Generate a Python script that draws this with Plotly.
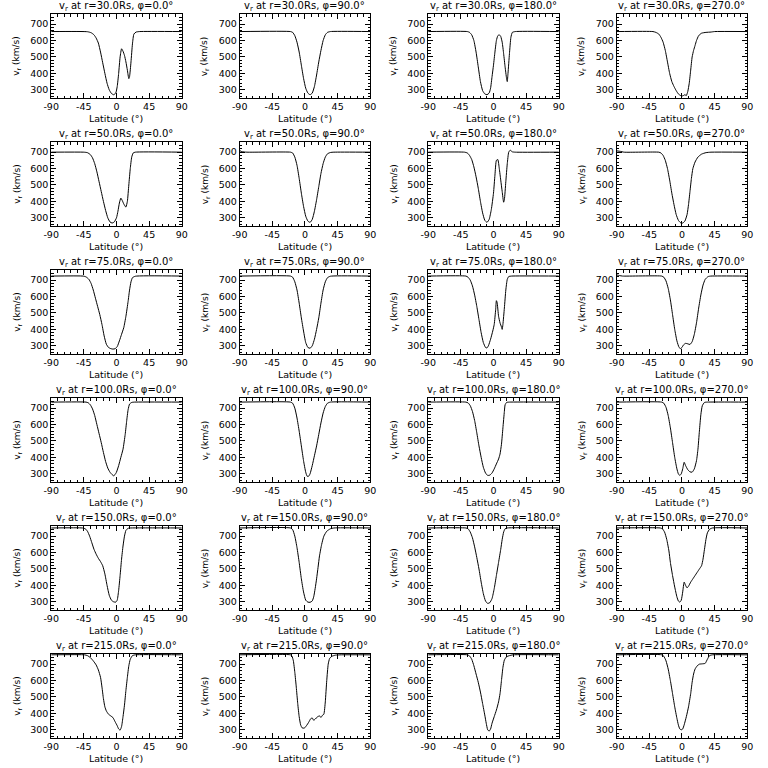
import plotly.graph_objects as go

# ---------------- data ----------------
radii = [30.0, 50.0, 75.0, 100.0, 150.0, 215.0]
phis = [0.0, 90.0, 180.0, 270.0]
x_ticks = [-90, -45, 0, 45, 90]
y_ticks = [300, 400, 500, 600, 700]

# r = 30 Rs
r30_p0_lat = [-90, -40, -35, -31, -28, -25, -22, -19, -16, -13, -10, -7, -4, -1, 1, 3, 5, 7, 9, 11, 13, 15, 17, 18, 20, 22, 24, 27, 32, 90]
r30_p0_v = [655, 654, 648, 635, 615, 585, 530, 465, 400, 340, 300, 278, 270, 280, 320, 400, 500, 550, 535, 510, 470, 420, 368, 380, 470, 580, 640, 652, 655, 655]
r30_p90_lat = [-90, -20, -17, -14, -11, -8, -5, -2, 1, 4, 7, 10, 13, 16, 19, 22, 25, 28, 31, 35, 90]
r30_p90_v = [655, 655, 650, 630, 590, 530, 450, 370, 310, 280, 270, 280, 320, 390, 470, 540, 600, 635, 650, 655, 655]
r30_p180_lat = [-90, -36, -33, -30, -27, -24, -21, -18, -15, -12, -9, -6, -4, -2, 0, 2, 4, 6, 8, 10, 12, 14, 16, 18, 19, 20, 22, 24, 26, 30, 90]
r30_p180_v = [655, 655, 650, 635, 600, 530, 440, 350, 295, 275, 270, 280, 310, 380, 450, 530, 600, 630, 635, 625, 590, 520, 440, 370, 350, 400, 520, 620, 650, 655, 655]
r30_p270_lat = [-90, -40, -36, -32, -29, -26, -23, -20, -17, -14, -11, -8, -5, -2, 0, 2, 4, 6, 8, 10, 12, 14, 16, 18, 20, 23, 27, 33, 40, 45, 90]
r30_p270_v = [655, 655, 650, 640, 620, 590, 540, 470, 400, 350, 320, 295, 275, 265, 262, 265, 270, 265, 290, 340, 420, 500, 540, 570, 600, 630, 645, 650, 652, 655, 655]

# r = 50 Rs
r50_p0_lat = [-90, -45, -40, -36, -33, -30, -27, -24, -21, -18, -15, -12, -9, -6, -3, 0, 2, 4, 6, 8, 10, 12, 13, 15, 17, 19, 21, 23, 26, 90]
r50_p0_v = [700, 700, 697, 685, 665, 630, 580, 520, 460, 400, 345, 300, 275, 268, 275, 300, 340, 390, 420, 405, 385, 370, 365, 400, 500, 600, 670, 695, 700, 700]
r50_p90_lat = [-90, -87, -80, -20, -17, -14, -11, -8, -5, -2, 1, 4, 7, 10, 13, 16, 19, 22, 25, 28, 31, 35, 40, 90]
r50_p90_v = [710, 703, 700, 700, 695, 670, 620, 540, 450, 370, 310, 280, 272, 290, 340, 410, 490, 570, 630, 670, 690, 698, 700, 700]
r50_p180_lat = [-90, -40, -36, -33, -30, -27, -24, -21, -18, -15, -12, -9, -6, -3, 0, 2, 4, 6, 8, 10, 12, 14, 15, 17, 19, 21, 23, 26, 30, 90]
r50_p180_v = [700, 700, 695, 680, 655, 610, 550, 480, 400, 330, 285, 272, 290, 350, 450, 560, 650, 655, 600, 530, 460, 395, 410, 520, 630, 700, 712, 702, 700, 700]
r50_p270_lat = [-90, -85, -80, -32, -29, -26, -23, -20, -17, -14, -11, -8, -5, -2, 1, 4, 7, 9, 11, 13, 15, 18, 22, 27, 33, 40, 90]
r50_p270_v = [708, 705, 700, 700, 695, 680, 650, 600, 530, 450, 380, 320, 285, 270, 268, 280, 320, 380, 460, 540, 600, 640, 670, 688, 697, 700, 700]

# r = 75 Rs
r75_p0_lat = [-90, -46, -42, -38, -35, -32, -29, -26, -23, -20, -17, -14, -11, -8, -5, -2, 1, 4, 7, 10, 13, 16, 18, 20, 22, 26, 90]
r75_p0_v = [725, 725, 720, 705, 680, 640, 590, 540, 490, 430, 360, 310, 290, 283, 280, 282, 295, 330, 370, 410, 480, 570, 640, 690, 715, 724, 725]
r75_p90_lat = [-90, -20, -17, -14, -11, -8, -5, -2, 1, 4, 7, 10, 13, 16, 19, 22, 25, 28, 31, 35, 90]
r75_p90_v = [725, 725, 718, 690, 640, 560, 470, 390, 320, 290, 285, 300, 340, 400, 470, 560, 640, 690, 715, 724, 725]
r75_p180_lat = [-90, -38, -35, -32, -29, -26, -23, -20, -17, -14, -11, -9, -7, -4, -1, 1, 3, 4, 5, 7, 9, 11, 12, 13, 15, 17, 19, 21, 25, 90]
r75_p180_v = [725, 725, 718, 700, 665, 610, 540, 460, 380, 320, 290, 287, 300, 340, 390, 430, 520, 575, 565, 480, 440, 415, 400, 430, 530, 640, 705, 722, 725, 725]
r75_p270_lat = [-90, -86, -82, -28, -25, -22, -19, -16, -13, -10, -7, -4, -2, 0, 2, 5, 8, 11, 14, 17, 20, 23, 26, 29, 32, 36, 40, 90]
r75_p270_v = [732, 728, 725, 725, 718, 695, 650, 580, 490, 400, 330, 290, 283, 290, 305, 315, 312, 308, 325, 370, 440, 530, 610, 670, 705, 722, 725, 725]

# r = 100 Rs
r100_p0_lat = [-90, -42, -39, -36, -33, -30, -27, -24, -21, -18, -15, -12, -9, -6, -4, -2, 0, 3, 6, 9, 12, 14, 16, 18, 21, 25, 90]
r100_p0_v = [737, 737, 733, 720, 695, 655, 600, 545, 490, 430, 375, 335, 310, 295, 288, 295, 310, 350, 400, 450, 540, 620, 690, 725, 735, 737, 737]
r100_p90_lat = [-90, -20, -17, -14, -11, -8, -5, -2, 1, 3, 5, 7, 10, 13, 16, 19, 22, 25, 28, 31, 35, 90]
r100_p90_v = [737, 737, 730, 700, 640, 560, 470, 380, 310, 285, 285, 300, 350, 410, 470, 540, 610, 670, 710, 730, 737, 737]
r100_p180_lat = [-90, -38, -35, -32, -29, -26, -23, -20, -17, -14, -11, -8, -5, -2, 1, 4, 7, 9, 11, 13, 15, 16, 18, 22, 90]
r100_p180_v = [737, 737, 732, 715, 680, 625, 550, 470, 400, 340, 305, 290, 292, 305, 330, 360, 390, 420, 480, 580, 680, 720, 735, 737, 737]
r100_p270_lat = [-90, -28, -25, -22, -19, -16, -13, -10, -7, -5, -3, -1, 1, 3, 5, 8, 11, 14, 17, 20, 22, 24, 26, 28, 31, 35, 90]
r100_p270_v = [737, 737, 730, 705, 655, 580, 490, 400, 330, 300, 290, 300, 330, 370, 350, 325, 312, 310, 330, 380, 450, 560, 660, 715, 735, 737, 737]

# r = 150 Rs
r150_p0_lat = [-90, -47, -43, -40, -37, -34, -31, -28, -25, -22, -19, -16, -13, -10, -7, -4, -1, 1, 3, 5, 7, 9, 11, 13, 16, 20, 90]
r150_p0_v = [750, 750, 745, 730, 700, 660, 620, 590, 565, 545, 520, 470, 400, 340, 310, 300, 298, 310, 370, 460, 560, 640, 700, 735, 748, 750, 750]
r150_p90_lat = [-90, -20, -17, -14, -11, -8, -5, -2, 1, 4, 7, 10, 12, 14, 16, 18, 20, 23, 26, 30, 35, 40, 90]
r150_p90_v = [750, 750, 740, 700, 630, 540, 440, 360, 310, 298, 297, 305, 330, 380, 440, 510, 580, 650, 700, 730, 745, 750, 750]
r150_p180_lat = [-90, -38, -35, -32, -29, -26, -23, -20, -17, -14, -11, -8, -5, -2, 1, 4, 7, 10, 12, 14, 16, 19, 90]
r150_p180_v = [750, 750, 745, 725, 690, 635, 570, 500, 420, 350, 305, 290, 295, 320, 380, 460, 540, 620, 680, 725, 745, 750, 750]
r150_p270_lat = [-90, -30, -27, -24, -21, -18, -16, -13, -10, -7, -5, -3, -1, 1, 3, 5, 7, 9, 12, 15, 18, 21, 24, 27, 29, 31, 33, 35, 38, 42, 90]
r150_p270_v = [750, 750, 745, 725, 680, 610, 540, 460, 390, 330, 305, 298, 310, 360, 420, 400, 385, 395, 420, 440, 460, 480, 500, 520, 560, 620, 680, 720, 742, 750, 750]

# r = 215 Rs
r215_p0_lat = [-90, -44, -40, -36, -32, -28, -25, -22, -20, -18, -16, -14, -11, -8, -5, -2, 1, 3, 5, 7, 9, 11, 13, 15, 17, 19, 22, 26, 90]
r215_p0_v = [757, 757, 752, 740, 720, 695, 665, 620, 560, 490, 440, 415, 395, 385, 375, 350, 325, 305, 298, 320, 380, 450, 540, 620, 690, 730, 752, 757, 757]
r215_p90_lat = [-90, -20, -18, -16, -14, -12, -10, -8, -6, -4, -1, 2, 5, 8, 10, 12, 14, 17, 20, 22, 24, 26, 28, 30, 32, 34, 37, 42, 50, 90]
r215_p90_v = [757, 757, 750, 720, 650, 560, 460, 380, 330, 312, 310, 325, 345, 368, 372, 358, 365, 378, 385, 375, 388, 395, 470, 600, 700, 735, 748, 755, 757, 757]
r215_p180_lat = [-90, -36, -33, -30, -27, -24, -21, -18, -15, -12, -10, -8, -6, -4, -2, 1, 4, 7, 9, 11, 13, 15, 18, 22, 27, 90]
r215_p180_v = [757, 757, 750, 730, 690, 640, 590, 530, 460, 390, 340, 300, 292, 305, 340, 380, 420, 470, 520, 600, 680, 725, 745, 752, 757, 757]
r215_p270_lat = [-90, -28, -25, -22, -19, -16, -13, -10, -7, -5, -3, -1, 1, 3, 6, 9, 12, 14, 16, 18, 21, 24, 28, 32, 35, 38, 42, 90]
r215_p270_v = [757, 757, 748, 720, 670, 600, 520, 440, 370, 330, 305, 300, 305, 330, 380, 440, 520, 590, 640, 670, 690, 700, 702, 705, 730, 752, 757, 757]

panels = [
    [(r30_p0_lat, r30_p0_v), (r30_p90_lat, r30_p90_v), (r30_p180_lat, r30_p180_v), (r30_p270_lat, r30_p270_v)],
    [(r50_p0_lat, r50_p0_v), (r50_p90_lat, r50_p90_v), (r50_p180_lat, r50_p180_v), (r50_p270_lat, r50_p270_v)],
    [(r75_p0_lat, r75_p0_v), (r75_p90_lat, r75_p90_v), (r75_p180_lat, r75_p180_v), (r75_p270_lat, r75_p270_v)],
    [(r100_p0_lat, r100_p0_v), (r100_p90_lat, r100_p90_v), (r100_p180_lat, r100_p180_v), (r100_p270_lat, r100_p270_v)],
    [(r150_p0_lat, r150_p0_v), (r150_p90_lat, r150_p90_v), (r150_p180_lat, r150_p180_v), (r150_p270_lat, r150_p270_v)],
    [(r215_p0_lat, r215_p0_v), (r215_p90_lat, r215_p90_v), (r215_p180_lat, r215_p180_v), (r215_p270_lat, r215_p270_v)],
]

# ---------------- layout ----------------
W = H = 768
FONT = "DejaVu Sans"
fig = go.Figure()
layout = dict(
    width=W, height=H, margin=dict(l=0, r=0, t=0, b=0),
    paper_bgcolor="white", plot_bgcolor="white", showlegend=False,
    font=dict(family=FONT, size=9.5, color="black"),
)
annotations = []

n = 0
for r, row in enumerate(panels):
    for c, (lat, v) in enumerate(row):
        n += 1
        sfx = "" if n == 1 else str(n)
        x0, x1 = 44 + 192 * c, 177 + 192 * c
        y0, y1 = 14 + 128 * r, 98 + 128 * r
        fig.add_trace(go.Scatter(
            x=lat, y=v, mode="lines",
            line=dict(color="black", width=1, shape="spline", smoothing=0.5),
            xaxis="x" + sfx, yaxis="y" + sfx, hoverinfo="skip"))
        common = dict(
            showline=True, linecolor="black", linewidth=1, mirror="ticks",
            ticks="inside", ticklen=5, tickwidth=1, tickcolor="black",
            showgrid=False, zeroline=False,
            tickfont=dict(family=FONT, size=9.5, color="black"),
        )
        layout["xaxis" + sfx] = dict(
            common, domain=[x0 / W, x1 / W], range=[-90, 90], anchor="y" + sfx,
            tickvals=x_ticks, ticktext=[str(t) for t in x_ticks],
            minor=dict(ticks="inside", ticklen=2.5, dtick=9, tickcolor="black"),
        )
        layout["yaxis" + sfx] = dict(
            common, domain=[1 - y1 / H, 1 - y0 / H], range=[250, 762], anchor="x" + sfx,
            tickvals=y_ticks, ticktext=[str(t) for t in y_ticks],
            minor=dict(ticks="inside", ticklen=2.5, dtick=20, tickcolor="black"),
        )
        # panel title
        annotations.append(dict(
            text=f"v<sub>r</sub> at r={radii[r]:.1f}Rs, φ={phis[c]:.1f}°",
            x=(x0 + x1) / 2 / W, y=1 - (y0 - 7.5) / H, xref="paper", yref="paper",
            xanchor="center", yanchor="middle", showarrow=False, borderpad=0,
            font=dict(family=FONT, size=10, color="black"),
        ))
        # x axis title
        annotations.append(dict(
            text="Latitude (°)",
            x=(x0 + x1) / 2 / W, y=1 - (y1 + 20) / H, xref="paper", yref="paper",
            xanchor="center", yanchor="middle", showarrow=False, borderpad=0,
            font=dict(family=FONT, size=9.5, color="black"),
        ))
        # y axis title
        annotations.append(dict(
            text="v<sub>r</sub> (km/s)", textangle=-90,
            x=(x0 - 35) / W, y=1 - (y0 + y1) / 2 / H, xref="paper", yref="paper",
            xanchor="center", yanchor="middle", showarrow=False, borderpad=0,
            font=dict(family=FONT, size=9, color="black"),
        ))

layout["annotations"] = annotations
fig.update_layout(**layout)
# the page body has a default 8px margin; remove it so the 768x768 figure fills the window
fig.write_html("out.html", config={"displayModeBar": False},
               post_script="document.body.style.margin='0';")
